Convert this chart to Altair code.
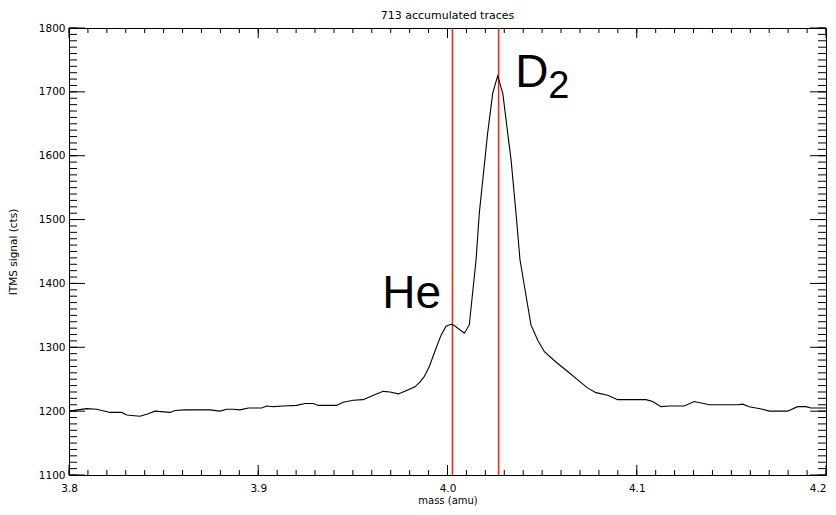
import altair as alt
import pandas as pd

# ---- data ----
mass = [3.800, 3.8093, 3.8146, 3.8217, 3.8278, 3.8305, 3.8375, 3.8419, 3.8454, 3.8534,
        3.856, 3.8613, 3.8745, 3.8798, 3.8833, 3.8868, 3.8904, 3.8948, 3.9018, 3.9045,
        3.908, 3.9132, 3.9203, 3.9247, 3.9291, 3.9317, 3.9414, 3.9449, 3.9502, 3.9555,
        3.9608, 3.966, 3.9696, 3.974, 3.9775, 3.9828, 3.9855, 3.9877, 3.9904, 3.9939,
        3.9966, 3.9992, 4.0019, 4.0036, 4.0089, 4.0115, 4.0151, 4.0168, 4.0212, 4.0239,
        4.0265, 4.0292, 4.0336, 4.0362, 4.0383, 4.0441, 4.0477, 4.0512, 4.0573, 4.0635,
        4.0688, 4.0741, 4.0785, 4.0846, 4.0899, 4.1049, 4.1084, 4.1128, 4.1172, 4.1251,
        4.1304, 4.1384, 4.1533, 4.156, 4.1595, 4.1665, 4.1701, 4.1797, 4.185, 4.1894,
        4.1921, 4.1974, 4.2]
signal = [1200, 1204, 1203, 1198, 1198, 1194, 1192, 1196, 1200, 1198,
          1201, 1202, 1202, 1200, 1203, 1203, 1202, 1205, 1205, 1208,
          1207, 1208, 1209, 1212, 1212, 1209, 1209, 1214, 1217, 1218,
          1225, 1231, 1230, 1227, 1231, 1238, 1246, 1254, 1270, 1298,
          1319, 1333, 1336, 1334, 1322, 1335, 1437, 1510, 1635, 1698,
          1725, 1698, 1593, 1510, 1437, 1335, 1311, 1293, 1277, 1262,
          1249, 1236, 1229, 1225, 1218, 1218, 1215, 1207, 1208, 1208,
          1215, 1210, 1210, 1211, 1207, 1203, 1200, 1200, 1207, 1207,
          1205, 1205, 1205]

marker_mass = [4.0026, 4.0270]          # He and D2 reference lines

label_text = ["He", "D", "2"]
label_mass = [3.9655, 4.0358, 4.0533]
label_signal = [1361, 1707, 1690]
label_size = [46, 46, 38]

x_major = [3.8, 3.9, 4.0, 4.1, 4.2]
x_minor = [round(3.8 + 0.01 * i, 2) for i in range(41)]
y_major = [1100, 1200, 1300, 1400, 1500, 1600, 1700, 1800]
y_minor = list(range(1100, 1801, 10))

title_text = "713 accumulated traces"
x_title = "mass (amu)"
y_title = "ITMS signal (cts)"

W, H = 757, 447
FONT = "DejaVu Sans"

xs = alt.Scale(domain=[3.8, 4.2], nice=False, zero=False)
ys = alt.Scale(domain=[1100, 1800], nice=False, zero=False)

trace = pd.DataFrame({"mass": mass, "signal": signal})

line = alt.Chart(trace).mark_line(color="black", strokeWidth=1.1, interpolate="linear").encode(
    x=alt.X("mass:Q", scale=xs,
            axis=alt.Axis(title=x_title, values=x_major, format=".1f", tickSize=0,
                          labelPadding=8, titlePadding=2, grid=False, titleFontSize=10,
                          labelAlign=alt.expr("datum.value >= 4.19 ? 'right' : 'center'"))),
    y=alt.Y("signal:Q", scale=ys,
            axis=alt.Axis(title=y_title, values=y_major, format="d", tickSize=0,
                          labelPadding=4, titlePadding=20, grid=False)),
)

markers = alt.Chart(pd.DataFrame({"m": marker_mass})).mark_rule(
    color="#ff2000", strokeWidth=1.5).encode(x=alt.X("m:Q", scale=xs))

# inward ticks (IDL style) on all four sides
xmaj = pd.DataFrame({"v": x_major})
xmin = pd.DataFrame({"v": x_minor})
ymaj = pd.DataFrame({"v": y_major})
ymin = pd.DataFrame({"v": y_minor})

def xticks(df, y0, y1):
    return alt.Chart(df).mark_rule(color="black", strokeWidth=1).encode(
        x=alt.X("v:Q", scale=xs), y=alt.value(y0), y2=alt.value(y1))

def yticks(df, x0, x1):
    return alt.Chart(df).mark_rule(color="black", strokeWidth=1).encode(
        y=alt.Y("v:Q", scale=ys), x=alt.value(x0), x2=alt.value(x1))

ticks = [
    xticks(xmaj, H, H - 10), xticks(xmin, H, H - 5),
    xticks(xmaj, 0, 10), xticks(xmin, 0, 5),
    yticks(ymaj, 0, 16), yticks(ymin, 0, 8),
    yticks(ymaj, W, W - 16), yticks(ymin, W, W - 8),
]

labels = pd.DataFrame({"t": label_text, "m": label_mass, "s": label_signal, "fs": label_size})
text = alt.Chart(labels).mark_text(
    align="left", baseline="alphabetic", font="Liberation Sans", color="black").encode(
    x=alt.X("m:Q", scale=xs), y=alt.Y("s:Q", scale=ys), text="t:N",
    size=alt.Size("fs:Q", scale=None, legend=None))

chart = alt.layer(markers, line, *ticks, text).properties(
    width=W, height=H,
    title=alt.TitleParams(title_text, font=FONT, fontSize=11, fontWeight="normal",
                          color="black", offset=2),
    autosize=alt.AutoSizeParams(type="none"),
    padding={"left": 61, "top": 20, "right": 2, "bottom": 32},
).configure_view(stroke="black", strokeWidth=1).configure_axis(
    domainColor="black", domainWidth=1, labelFont=FONT, labelFontSize=10.5,
    labelColor="black", titleFont=FONT, titleFontSize=10.5, titleFontWeight="normal",
    titleColor="black",
)

chart.save("out.html", embed_options={"renderer": "svg", "actions": False})
